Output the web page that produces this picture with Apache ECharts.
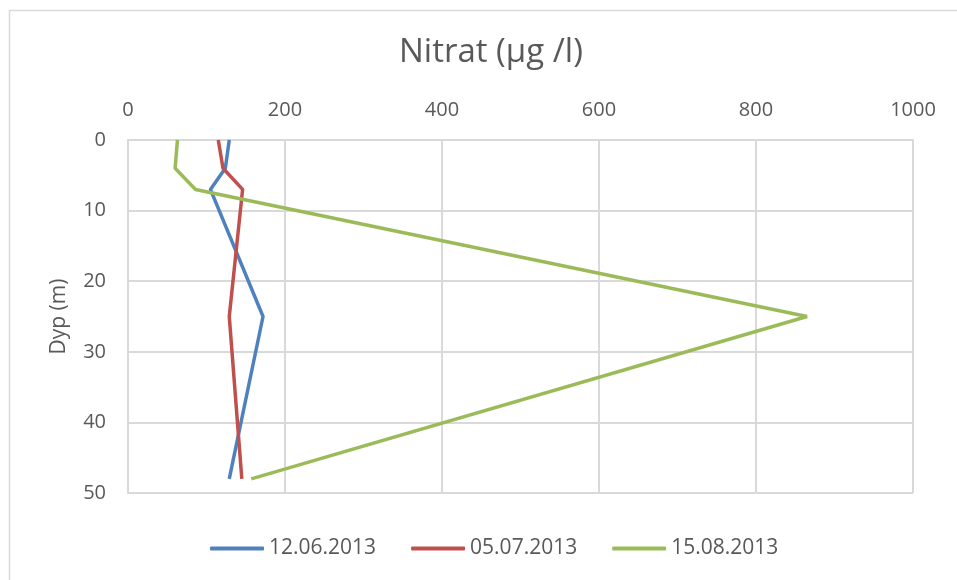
<!DOCTYPE html>
<html>
<head>
<meta charset="utf-8">
<script src="https://cdn.jsdelivr.net/npm/echarts@6/dist/echarts.min.js"></script>
<style>
html,body{margin:0;padding:0;background:#fff;}
#chart{width:957px;height:580px;}
</style>
</head>
<body>
<div id="chart"></div>
<script>
const depths = [0, 4, 7, 25, 48];
const seriesNames = ['12.06.2013', '05.07.2013', '15.08.2013'];
const nitrat_12_06 = [129, 124, 105, 172, 129];
const nitrat_05_07 = [115, 121, 146, 129, 145];
const nitrat_15_08 = [63, 60, 86, 865, 157];
const colors = ['#4F81BD', '#C0504D', '#9BBB59'];

const allValues = [nitrat_12_06, nitrat_05_07, nitrat_15_08];
const font = 'Open Sans';
const txt = '#595959';

const chart = echarts.init(document.getElementById('chart'));
chart.setOption({
  animation: false,
  backgroundColor: '#fff',
  graphic: [{
    type: 'rect', left: 7, top: 8,
    shape: { width: 1000, height: 1000 },
    style: { fill: 'none', stroke: '#d9d9d9', lineWidth: 1.5 }
  }],
  title: {
    text: 'Nitrat (µg /l)',
    left: 394, top: 31,
    textStyle: { fontFamily: font, fontSize: 33, fontWeight: 'normal', color: txt }
  },
  legend: {
    bottom: 16, left: 205,
    icon: 'roundRect',
    itemWidth: 54, itemHeight: 4, itemGap: 35,
    textStyle: { fontFamily: font, fontSize: 21, color: txt },
    data: seriesNames
  },
  grid: { left: 128, top: 140, width: 785, height: 353, containLabel: false },
  xAxis: {
    type: 'value', position: 'top', min: 0, max: 1000, interval: 200,
    axisLine: { show: true, lineStyle: { color: '#d9d9d9', width: 2 } },
    axisTick: { show: false },
    axisLabel: { fontFamily: font, fontSize: 20, color: txt, margin: 20, formatter: v => String(v) },
    splitLine: { lineStyle: { color: '#d9d9d9', width: 2 } }
  },
  yAxis: {
    type: 'value', inverse: true, min: 0, max: 50, interval: 10,
    name: 'Dyp (m)', nameLocation: 'middle', nameGap: 58, nameRotate: 90,
    nameTextStyle: { fontFamily: font, fontSize: 21, color: txt },
    axisLine: { show: true, lineStyle: { color: '#d9d9d9', width: 2 } },
    axisTick: { show: false },
    axisLabel: { fontFamily: font, fontSize: 20, color: txt, margin: 22, formatter: v => String(v) },
    splitLine: { lineStyle: { color: '#d9d9d9', width: 2 } }
  },
  series: seriesNames.map((name, i) => ({
    name: name,
    type: 'line',
    symbol: 'none',
    color: colors[i],
    itemStyle: { color: colors[i] },
    lineStyle: { width: 3.5, color: colors[i] },
    data: depths.map((d, j) => [allValues[i][j], d])
  }))
});
</script>
</body>
</html>
